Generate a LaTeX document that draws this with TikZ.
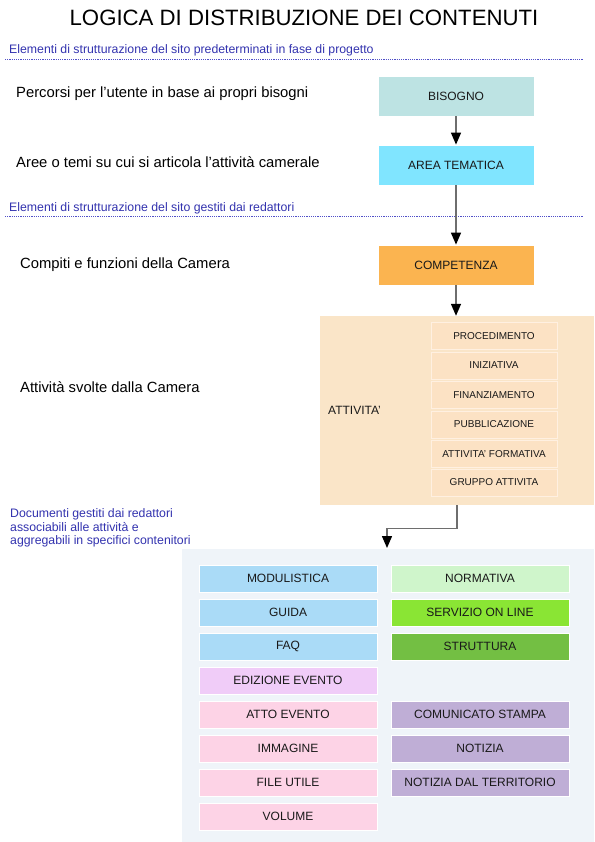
\documentclass[tikz,border=0pt]{standalone}
\usepackage{fontspec}
\setmainfont{Liberation Sans}
\usetikzlibrary{arrows.meta}
\definecolor{capblue}{RGB}{51,51,175}
\definecolor{dotblue}{RGB}{80,80,200}
\definecolor{cbis}{RGB}{189,227,227}
\definecolor{carea}{RGB}{128,229,255}
\definecolor{ccomp}{RGB}{251,180,80}
\definecolor{catt}{RGB}{250,229,200}
\definecolor{catti}{RGB}{252,226,196}
\definecolor{cdocs}{RGB}{239,244,249}
\definecolor{cblue}{RGB}{170,219,247}
\definecolor{cnorm}{RGB}{207,245,203}
\definecolor{cserv}{RGB}{138,229,52}
\definecolor{cstru}{RGB}{115,191,67}
\definecolor{cediz}{RGB}{240,204,248}
\definecolor{cpink}{RGB}{253,211,230}
\definecolor{cpurp}{RGB}{191,174,214}
\definecolor{txt}{RGB}{25,25,25}
\begin{document}
\begin{tikzpicture}[x=1pt,y=-1pt,
  box/.style={draw=white,line width=0.8pt,inner sep=0pt,text=txt,font=\fontsize{12}{14}\selectfont},
  bigbox/.style={box,minimum width=156pt,minimum height=40pt},
  docbox/.style={box,minimum width=178pt,minimum height=27pt},
  smallbox/.style={box,fill=catti,draw={rgb,255:red,255;green,240;blue,225},minimum width=126pt,minimum height=27pt,font=\fontsize{10}{12}\selectfont},
  side/.style={anchor=west,inner sep=0pt,text=black,font=\fontsize{14.8}{17}\selectfont},
  captext/.style={anchor=west,inner sep=0pt,text=capblue,font=\fontsize{12.3}{13}\selectfont},
  dotline/.style={dotblue,line width=1pt,dash pattern=on 1.2pt off 1pt},
  arr/.style={draw={rgb,255:red,110;green,110;blue,110},line width=1.4pt,-{Triangle[length=12pt,width=10pt,black]}}]
\useasboundingbox (0,0) rectangle (594,842);
\fill[white] (0,0) rectangle (594,842);
% title
\node[inner sep=0pt,font=\fontsize{22.2}{26}\selectfont] (title) at (304,18) {LOGICA DI DISTRIBUZIONE DEI CONTENUTI};
% captions
\node[captext] (cap1) at (9,50) {Elementi di strutturazione del sito predeterminati in fase di progetto};
\draw[dotline] (5,60) -- (583,60);
\node[captext] (cap2) at (9,208) {Elementi di strutturazione del sito gestiti dai redattori};
\draw[dotline] (5,217) -- (583,217);
\node[captext,align=left,font=\fontsize{12.3}{13.2}\selectfont] (cap3) at (10,528) {Documenti gestiti dai redattori\\associabili alle attività e\\aggregabili in specifici contenitori};
% side labels
\node[side] (l1) at (16,94) {Percorsi per l’utente in base ai propri bisogni};
\node[side] (l2) at (16,162) {Aree o temi su cui si articola l’attività camerale};
\node[side] (l3) at (20,265) {Compiti e funzioni della Camera};
\node[side] (l4) at (20,387) {Attività svolte dalla Camera};
% main chain
\node[bigbox,fill=cbis] (bis) at (456,96) {BISOGNO};
\node[bigbox,fill=carea] (area) at (456,165) {AREA TEMATICA};
\node[bigbox,fill=ccomp] (comp) at (456,265) {COMPETENZA};
% attivita container
\node[fill=catt,minimum width=274pt,minimum height=189pt,inner sep=0pt] (att) at (457,410.5) {};
\node[anchor=west,inner sep=0pt,text=txt,font=\fontsize{12}{14}\selectfont] (attl) at (328,410) {ATTIVITA’};
\node[smallbox] (a1) at (494,336) {PROCEDIMENTO};
\node[smallbox] (a2) at (494,365.5) {INIZIATIVA};
\node[smallbox] (a3) at (494,395) {FINANZIAMENTO};
\node[smallbox] (a4) at (494,424.5) {PUBBLICAZIONE};
\node[smallbox] (a5) at (494,454) {ATTIVITA’ FORMATIVA};
\node[smallbox] (a6) at (494,482.5) {GRUPPO ATTIVITA};
% documents container
\node[fill=cdocs,minimum width=412pt,minimum height=293pt,inner sep=0pt] (docs) at (388,695.5) {};
\node[docbox,fill=cblue] (d1) at (288,578.5) {MODULISTICA};
\node[docbox,fill=cblue] (d2) at (288,612.5) {GUIDA};
\node[docbox,fill=cblue] (d3) at (288,646.5) {FAQ};
\node[docbox,fill=cediz] (d4) at (288,680.5) {EDIZIONE EVENTO};
\node[docbox,fill=cpink] (d5) at (288,714.5) {ATTO EVENTO};
\node[docbox,fill=cpink] (d6) at (288,748.5) {IMMAGINE};
\node[docbox,fill=cpink] (d7) at (288,782.5) {FILE UTILE};
\node[docbox,fill=cpink] (d8) at (288,816.5) {VOLUME};
\node[docbox,fill=cnorm] (r1) at (480,578.5) {NORMATIVA};
\node[docbox,fill=cserv] (r2) at (480,612.5) {SERVIZIO ON LINE};
\node[docbox,fill=cstru] (r3) at (480,646.5) {STRUTTURA};
\node[docbox,fill=cpurp] (r4) at (480,714.5) {COMUNICATO STAMPA};
\node[docbox,fill=cpurp] (r5) at (480,748.5) {NOTIZIA};
\node[docbox,fill=cpurp] (r6) at (480,782.5) {NOTIZIA DAL TERRITORIO};
% connectors
\draw[arr] (bis) -- (area);
\draw[arr] (area) -- (comp);
\draw[arr] (comp.south) -- (comp.south |- att.north);
\coordinate (dtgt) at (387,548);
\draw[arr] (att.south) -- ++(0,23) -| (dtgt);
\end{tikzpicture}
\end{document}
